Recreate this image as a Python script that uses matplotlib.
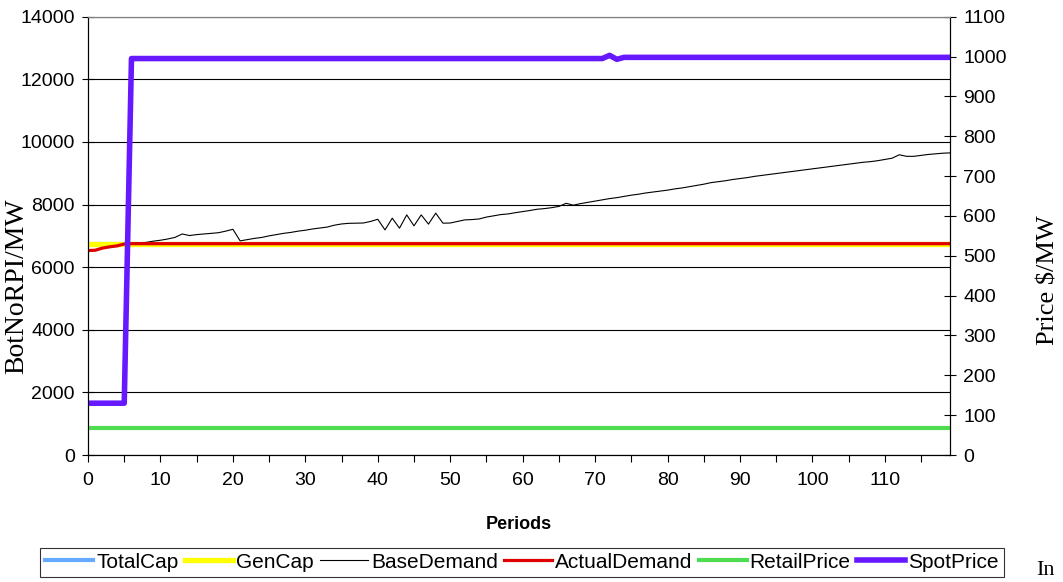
import numpy as np
import matplotlib
matplotlib.use("Agg")
import matplotlib.pyplot as plt
from matplotlib.ticker import MultipleLocator

plt.rcParams['font.family']=['Liberation Sans','DejaVu Sans']

periods=np.arange(120)
total_cap=[6750]*120
gen_cap=[6750]*120
base_demand=[6530,6540,6610,6650,6680,6740,6760,6780,6790,6830,
             6860,6900,6950,7060,7010,7040,7060,7080,7100,7150,
             7210,6840,6880,6920,6950,7000,7040,7080,7110,7150,
             7180,7220,7250,7280,7340,7380,7400,7405,7410,7460,
             7530,7190,7565,7245,7670,7320,7670,7375,7725,7405,
             7410,7460,7510,7520,7540,7600,7640,7680,7700,7740,
             7775,7810,7850,7870,7900,7940,8040,7980,8030,8070,
             8110,8150,8190,8220,8260,8300,8330,8370,8400,8430,
             8460,8500,8530,8570,8610,8650,8700,8730,8760,8800,
             8830,8860,8900,8930,8960,8990,9020,9050,9080,9110,
             9140,9170,9200,9230,9260,9290,9320,9350,9370,9400,
             9440,9480,9590,9540,9540,9570,9600,9620,9640,9650]
actual_demand=[6530,6540,6610,6650,6680,6740]+[6750]*114
retail_price=[68]*120
spot_price=[130]*6+[995]*66+[1003,993]+[998]*46

labels=["TotalCap","GenCap","BaseDemand","ActualDemand","RetailPrice","SpotPrice"]
colors=["#66AAFF","#FFFF00","#000000","#E00000","#50DC50","#6619FF"]

fig=plt.figure(figsize=(10.63,5.82),dpi=100)
ax=fig.add_axes([0.0828,0.2182,0.8109,0.7531])
ax2=ax.twinx()

h=[]
h+=ax.plot(periods,total_cap,color=colors[0],lw=3,label=labels[0])
h+=ax.plot(periods,gen_cap,color=colors[1],lw=3.8,label=labels[1])
h+=ax.plot(periods,base_demand,color=colors[2],lw=0.8,label=labels[2])
h+=ax.plot(periods,actual_demand,color=colors[3],lw=2.3,label=labels[3])
h+=ax2.plot(periods,retail_price,color=colors[4],lw=3,label=labels[4])
h+=ax2.plot(periods,spot_price,color=colors[5],lw=4,label=labels[5])

ax.set_xlim(0,119)
ax.set_ylim(0,14000)
ax2.set_ylim(0,1100)
ax.xaxis.set_major_locator(MultipleLocator(10))
ax.xaxis.set_minor_locator(MultipleLocator(5))
ax.yaxis.set_major_locator(MultipleLocator(2000))
ax2.yaxis.set_major_locator(MultipleLocator(100))
ax.grid(axis='y',color='black',lw=0.8)
ax.set_axisbelow(True)

ax.tick_params(axis='x',which='both',direction='out',length=5,width=0.8,labelsize=14,pad=7)
ax.tick_params(axis='y',direction='inout',length=9,width=0.8,labelsize=14,pad=5)
ax2.tick_params(axis='y',direction='inout',length=9,width=0.8,labelsize=14,pad=5)

for a in (ax,ax2):
    a.spines['top'].set_color('#808080')
    a.spines['top'].set_linewidth(0.8)
    a.spines['left'].set_linewidth(0.8)
    a.spines['right'].set_linewidth(0.8)
    a.spines['bottom'].set_linewidth(0.8)

ax.set_xlabel("Periods",fontweight='bold',fontsize=13,labelpad=20)
fig.text(17/1063,1-286/582,"BotNoRPI/MW",rotation=90,ha='center',va='center',
         family=['Liberation Serif'],fontsize=20)
fig.text(1048/1063,1-280/582,"Price $/MW",rotation=90,ha='center',va='center',
         family=['Liberation Serif'],fontsize=19)
fig.text(1036/1063,1-580/582,"In",ha='left',va='bottom',family=['Liberation Serif'],fontsize=16)

leg=fig.legend(h,labels,loc='center',bbox_to_anchor=(0.491,0.034),ncol=6,
               fontsize=15,frameon=True,fancybox=False,handlelength=2.3,
               handletextpad=0.15,columnspacing=0.3,borderpad=0.25,borderaxespad=0)
leg.get_frame().set_edgecolor('black')
leg.get_frame().set_linewidth(0.8)

fig.savefig("out.png",dpi=100)
